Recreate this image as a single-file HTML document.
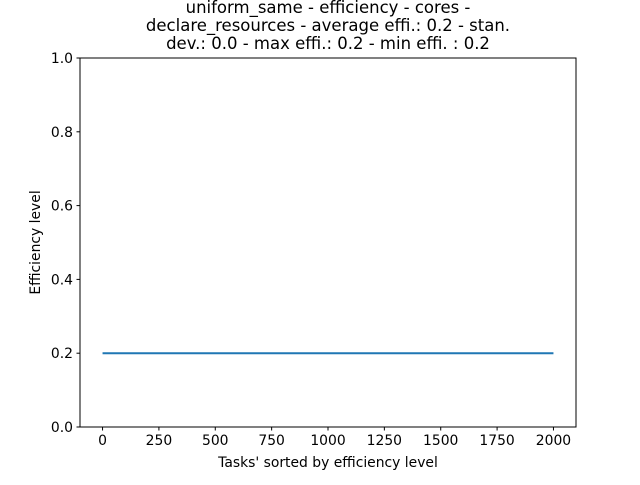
<!DOCTYPE html>
<html><head><meta charset="utf-8"><style>
html,body{margin:0;padding:0;background:#fff;}
svg text{font-family:"DejaVu Sans","Liberation Sans",sans-serif;fill:#000;}
</style></head><body>
<svg id="chart" width="640" height="480" xmlns="http://www.w3.org/2000/svg">
<g>
<text x="328" y="13" font-size="16.5" text-anchor="middle">uniform_same - efficiency - cores -</text>
<text x="328" y="31" font-size="16.5" text-anchor="middle">declare_resources - average effi.: 0.2 - stan.</text>
<text x="328" y="49" font-size="16.5" text-anchor="middle">dev.: 0.0 - max effi.: 0.2 - min effi. : 0.2</text>
</g>
<g id="xt"></g>
<g id="yt"></g>
<g id="series"></g>
<rect x="80" y="58" width="496" height="369" fill="none" stroke="#000" stroke-width="1"/>
<text x="328" y="467" font-size="13.9" text-anchor="middle">Tasks' sorted by efficiency level</text>
<text transform="translate(40,242.5) rotate(-90)" font-size="13.9" text-anchor="middle">Efficiency level</text>
</svg>
<script>
const taskIndex = [0, 2000];
const efficiency = [0.2, 0.2];
const xTicks = [0, 250, 500, 750, 1000, 1250, 1500, 1750, 2000];
const yTicks = [0.0, 0.2, 0.4, 0.6, 0.8, 1.0];
const L=80,R=576,T=58,B=427;
const xmin=-100,xmax=2100,ymin=0,ymax=1;
const sx=v=>L+(v-xmin)/(xmax-xmin)*(R-L);
const sy=v=>B-(v-ymin)/(ymax-ymin)*(B-T);
const NS="http://www.w3.org/2000/svg";
function mk(t,a,p){const e=document.createElementNS(NS,t);for(const k in a)e.setAttribute(k,a[k]);p.appendChild(e);return e;}
const xt=document.getElementById('xt'),yt=document.getElementById('yt'),se=document.getElementById('series');
xTicks.forEach(v=>{
 const l=mk('line',{x1:sx(v),x2:sx(v),y1:B,y2:B+3.5,stroke:'#000'},xt);
 
 
 const t=mk('text',{x:sx(v),y:B+18,'font-size':13.9,'text-anchor':'middle'},xt);
 t.textContent=String(v);
 
 
});
yTicks.forEach(v=>{
 const l=mk('line',{x1:L-3.5,x2:L,y1:sy(v),y2:sy(v),stroke:'#000'},yt);
 
 
 const t=mk('text',{x:L-7,y:sy(v)+5,'font-size':13.9,'text-anchor':'end'},yt);
 t.textContent=v.toFixed(1);
 
 
});
const pts=taskIndex.map((x,i)=>sx(x)+','+sy(efficiency[i])).join(' ');
const pl=mk('polyline',{points:pts,fill:'none',stroke:'#1f77b4','stroke-width':2},se);


</script>
</body></html>
